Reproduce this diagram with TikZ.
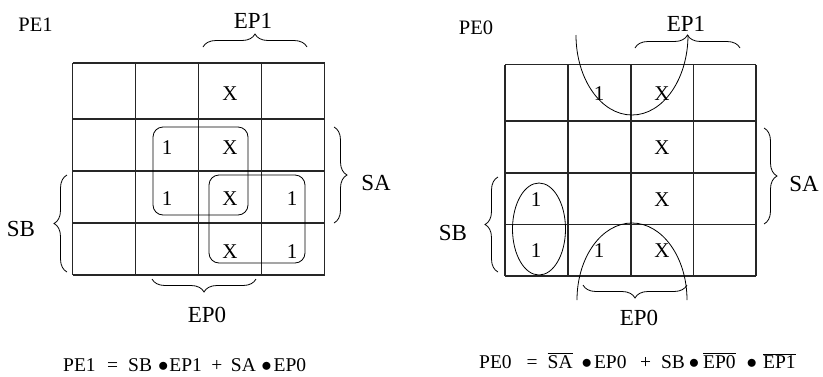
\documentclass[tikz,border=0pt]{standalone}
\usepackage{fontspec}
\setmainfont{Liberation Serif}
\usetikzlibrary{decorations.pathreplacing}

\tikzset{
  rejilla/.style={line width=1.2pt, black!85},
  celda/.style={inner sep=0pt, font=\fontsize{21}{21}\selectfont},
  etiq/.style={inner sep=0pt, font=\fontsize{23}{23}\selectfont},
  titulo/.style={inner sep=0pt, font=\fontsize{20.5}{20.5}\selectfont},
  ecuacion/.style={inner sep=0pt, anchor=base west, font=\fontsize{19.5}{19.5}\selectfont},
  grupo/.style={line width=0.8pt, rounded corners=10pt},
  curva/.style={line width=0.8pt},
  llave/.style={line width=0.8pt, decorate, decoration={brace, amplitude=13pt}},
}
\newcommand{\negado}[1]{$\overline{\mbox{#1}}$}
\newcommand{\punto}{{\fontsize{22}{22}\selectfont$\bullet$}}

\begin{document}
\begin{tikzpicture}[x=1pt, y=-1pt]
  \useasboundingbox (0,0) rectangle (823,376);

  % Mapa de PE1 (izquierda)
  \foreach \x in {72.5,135.5,198.5,261.5,324.5}
    \draw[rejilla] (\x,63) -- (\x,275);
  \foreach \y in {63,119,171,223,275}
    \draw[rejilla] (72.5,\y) -- (324.5,\y);

  % Contenido de las celdas
  \node[celda] (a-x0) at (230,94) {X};
  \node[celda] (a-u1) at (167,148) {1};
  \node[celda] (a-x1) at (230,148) {X};
  \node[celda] (a-u2) at (167,199) {1};
  \node[celda] (a-x2) at (230,199) {X};
  \node[celda] (a-v2) at (292,199) {1};
  \node[celda] (a-x3) at (230,252) {X};
  \node[celda] (a-v3) at (292,252) {1};

  % Agrupaciones
  \draw[grupo] (153,127) rectangle (248,215);
  \draw[grupo] (209,175) rectangle (305,263);

  % Llaves y variables
  \draw[llave] (203,47) -- (307,47);
  \draw[llave] (334,127) -- (334,223);
  \draw[llave] (67,272) -- (67,175);
  \draw[llave] (256,279) -- (152,279);
  \node[titulo] (a-pe) at (35.5,25) {PE1};
  \node[etiq] (a-ep1) at (253,21) {EP1};
  \node[etiq] (a-sa) at (376,183) {SA};
  \node[etiq] (a-sb) at (21,229) {SB};
  \node[etiq] (a-ep0) at (207,315) {EP0};

  % Mapa de PE0 (derecha)
  \foreach \x in {505,568,631,693.5,756}
    \draw[rejilla] (\x,64.5) -- (\x,276);
  \foreach \y in {64.5,121,173,224.5,276}
    \draw[rejilla] (505,\y) -- (756,\y);

  \node[celda] (b-u0) at (599,94) {1};
  \node[celda] (b-x0) at (662,94) {X};
  \node[celda] (b-x1) at (662,148) {X};
  \node[celda] (b-u2) at (536,200) {1};
  \node[celda] (b-x2) at (662,200) {X};
  \node[celda] (b-u3) at (536,251) {1};
  \node[celda] (b-v3) at (599,251) {1};
  \node[celda] (b-x3) at (662,251) {X};

  % Agrupaciones (la de arriba y la de abajo se cortan en el borde)
  \draw[curva] (539,229) ellipse [x radius=26.5, y radius=46];
  \draw[curva] (576,35) arc [start angle=180, end angle=0, x radius=56, y radius=80];
  \draw[curva] (577,300) arc [start angle=180, end angle=360, x radius=55, y radius=77];

  \draw[llave] (635,48) -- (740,48);
  \draw[llave] (764,128) -- (764,224);
  \draw[llave] (498,272) -- (498,177);
  \draw[llave] (687,285) -- (583,285);
  \node[titulo] (b-pe) at (476,28) {PE0};
  \node[etiq] (b-ep1) at (686,24) {EP1};
  \node[etiq] (b-sa) at (804,184) {SA};
  \node[etiq] (b-sb) at (453,233) {SB};
  \node[etiq] (b-ep0) at (639,318) {EP0};

  % Ecuaciones simplificadas
  \node[ecuacion] (ec-pe1) at (63,371)
    {PE1\hspace{11.5pt}=\hspace{10pt}SB\hspace{6pt}\punto\hspace{1pt}EP1\hspace{9.5pt}+\hspace{8.5pt}SA\hspace{5.5pt}\punto\hspace{2pt}EP0};
  \node[ecuacion] (ec-pe0) at (479,368)
    {PE0\hspace{15pt}=\hspace{10pt}\negado{SA}\hspace{9pt}\punto\hspace{2pt}EP0\hspace{13.5pt}+\hspace{10pt}SB\hspace{4pt}\punto\hspace{4pt}\negado{EP0}\hspace{11pt}\punto\hspace{6pt}\negado{EP1}};
\end{tikzpicture}
\end{document}
